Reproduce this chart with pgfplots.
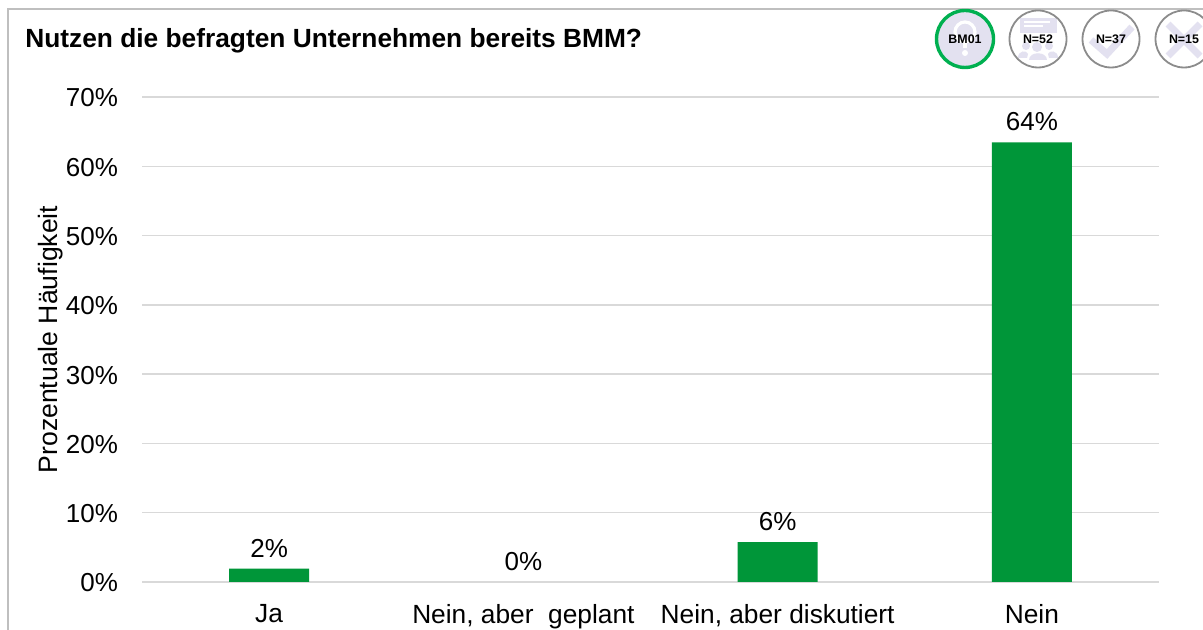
\documentclass[border=0pt]{standalone}
\usepackage{pgfplots}
\pgfplotsset{compat=1.18}
\usepackage{fontspec}
\setmainfont{Liberation Sans}
\definecolor{bargreen}{HTML}{009639}
\definecolor{ringgreen}{HTML}{00B050}
\definecolor{gridc}{HTML}{D9D9D9}
\definecolor{framec}{HTML}{BFBFBF}
\definecolor{ringgray}{HTML}{8C8C8C}
\definecolor{iconc}{HTML}{E3E1F0}
\begin{document}
\begin{tikzpicture}
\useasboundingbox (0,0) rectangle (601.5pt,315pt);
\clip (0,0) rectangle (601.5pt,315pt);
\fill[white] (0,0) rectangle (601.5pt,315pt);
\begin{axis}[
  at={(71pt,24pt)}, anchor=south west,
  scale only axis, width=508.5pt, height=242.5pt,
  xmin=-0.5, xmax=3.5, ymin=0, ymax=70,
  axis y line*=left, axis x line*=bottom,
  y axis line style={draw=none},
  x axis line style={draw=gridc,line width=0.7pt},
  ytick={0,10,...,70},
  yticklabel={\pgfmathprintnumber{\tick}\%},
  /pgf/number format/assume math mode=true,
  xtick={0,1,2,3},
  xticklabels={Ja,{Nein, aber\ \ geplant},{Nein, aber diskutiert},Nein},
  major tick length=0pt,
  ymajorgrids, grid style={gridc,line width=0.7pt},
  tick label style={font=\fontsize{13}{15}\selectfont,text=black},
  yticklabel style={xshift=-8.5pt,yshift=-0.5pt},
  xticklabel style={yshift=-7.5pt,font=\fontsize{13.15}{15}\selectfont},
  ylabel={Prozentuale Häufigkeit},
  every axis y label/.style={at={(axis description cs:-0.0895,0.5)},anchor=center,rotate=90,font=\fontsize{13.3}{15}\selectfont},
  ybar, bar width=40pt, bar shift=0pt,
  point meta=explicit symbolic,
  nodes near coords={\pgfplotspointmeta\%},
  every node near coord/.append style={font=\fontsize{13}{15}\selectfont,text=black,yshift=2pt},
  clip=false,
]
\addplot[fill=bargreen,draw=none] coordinates {(0,1.92)[2] (2,5.77)[6] (3,63.46)[64]};
\addplot[fill=none,draw=none] coordinates {(1,0)[0]};
\end{axis}
\begin{scope}[x=0.5pt,y=-0.5pt,shift={(0pt,315pt)}]
\draw[framec,line width=1.2pt] (8,630) -- (8,9) -- (1203,9);
\node[anchor=west,inner sep=0pt,font=\bfseries\fontsize{13.15}{15}\selectfont] at (25,41) {Nutzen die befragten Unternehmen bereits BMM?};
\begin{scope}[shift={(965,39)}]
  \fill[iconc] (0,0) circle (28);
  \draw[white,line width=1.6pt] (0,-7) circle (10);
  \fill[white] (-2,3) rectangle (2,9);
  \fill[white] (0,14) circle (3);
  \draw[ringgreen,line width=1.7pt] (0,0) circle (28.5);
  \node[font=\bfseries\fontsize{6.2}{7}\selectfont] {BM01};
\end{scope}
\begin{scope}[shift={(1038,39)}]
  \fill[iconc] (-18,-21) rectangle (19,-6);
  \draw[white,line width=0.6pt] (-14,-17) -- (12,-17) (-14,-13) -- (5,-13);
  \fill[iconc] (-1,8) circle (5);
  \fill[iconc] (-9,21) .. controls (-9,12) and (9,12) .. (9,21) -- cycle;
  \fill[iconc] (-12,7) circle (4);
  \fill[iconc] (11,7) circle (4);
  \fill[iconc] (-20,19) .. controls (-20,11) and (-11,11) .. (-10,15) -- (-11,19) -- cycle;
  \fill[iconc] (20,19) .. controls (20,11) and (11,11) .. (10,15) -- (11,19) -- cycle;
  \draw[ringgray,line width=0.9pt] (0,0) circle (28.5);
  \node[font=\bfseries\fontsize{6.2}{7}\selectfont] {N=52};
\end{scope}
\begin{scope}[shift={(1111,39)}]
  \draw[iconc,line width=3.5pt] (-20,1) -- (-4,15) -- (21,-12);
  \draw[ringgray,line width=0.9pt] (0,0) circle (28.5);
  \node[font=\bfseries\fontsize{6.2}{7}\selectfont] {N=37};
\end{scope}
\begin{scope}[shift={(1184,39)}]
  \draw[iconc,line width=3.5pt] (-16,-15) -- (16,17) (-16,17) -- (16,-15);
  \draw[ringgray,line width=0.9pt] (0,0) circle (28.5);
  \node[font=\bfseries\fontsize{6.2}{7}\selectfont] {N=15};
\end{scope}
\end{scope}
\end{tikzpicture}
\end{document}
